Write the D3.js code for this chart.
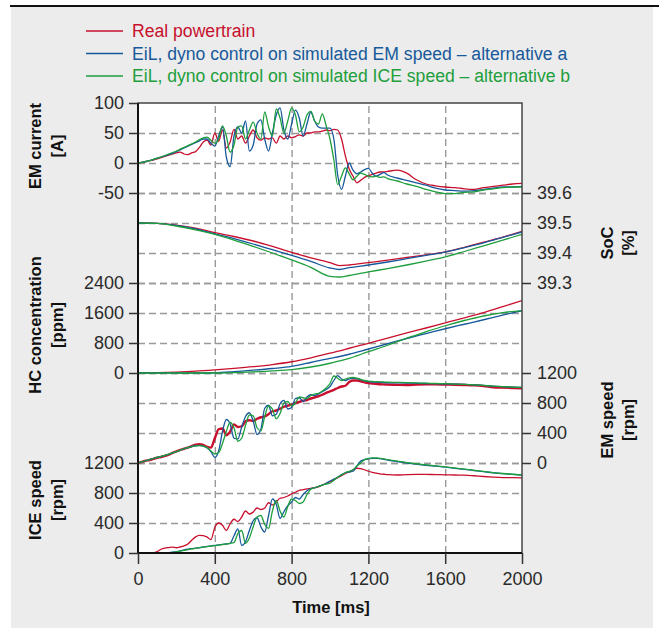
<!DOCTYPE html>
<html>
<head>
<meta charset="utf-8">
<script src="https://cdn.jsdelivr.net/npm/d3@7"></script>
<style>
  body { margin: 0; background: #fff; }
  svg { display: block; font-family: 'Liberation Sans', Arial, sans-serif; }
</style>
</head>
<body>
<div id="chart"></div>
<script>
// time stamps [ms]
const timeFast = [
  0, 20, 40, 60, 80, 100, 120, 140, 160, 180,
  200, 220, 240, 260, 280, 300, 320, 340, 360, 380,
  400, 420, 440, 460, 480, 500, 520, 540, 560, 580,
  600, 620, 640, 660, 680, 700, 720, 740, 760, 780,
  800, 820, 840, 860, 880, 900, 920, 940, 960, 980,
  1000, 1020, 1040, 1060, 1080, 1100, 1120, 1140, 1160, 1180,
  1200, 1220, 1240, 1260, 1280, 1300, 1350, 1400, 1450, 1500,
  1550, 1600, 1650, 1700, 1750, 1800, 1850, 1900, 1950, 2000
];
const timeSlow = [0, 100, 200, 300, 400, 500, 600, 700, 800, 900, 1000, 1050,
  1100, 1200, 1300, 1400, 1500, 1600, 1700, 1800, 1900, 2000];

// EM current [A]
const emCurrentReal = [
  0, 1, 2, 4, 5, 7, 9, 11, 13, 15,
  17, 18, 15, 14, 17, 19, 26, 35, 38, 30,
  50, 36, 55, 25, 35, 56, 40, 45, 33, 45,
  55, 42, 38, 42, 40, 42, 33, 45, 40, 45,
  42, 44, 47, 45, 50, 50, 52, 52, 53, 55,
  54, 56, 55, 40, 12, -10, -22, -33, -29, -24,
  -21, -19, -17, -15, -15, -14, -12, -17, -28, -35,
  -38, -40, -41, -43, -44, -41, -39, -37, -35, -34
];
const emCurrentA = [
  0, 1, 2.5, 4, 6, 8, 10, 12, 14, 16,
  19, 22, 25, 28, 31, 34, 37, 40, 40, 33,
  28, 45, 60, 10, -6, 45, 60, 50, 70, 20,
  30, 65, 72, 40, 20, 50, 80, 92, 55, 40,
  65, 88, 75, 45, 65, 85, 70, 60, 58, 58,
  58, 40, -20, -44, -22, 0, -12, -18, -15, -11,
  -9, -17, -22, -19, -16, -20, -25, -29, -33, -37,
  -42, -45, -46, -47, -46, -44, -42, -40, -40, -39
];
const emCurrentB = [
  0, 1, 2.5, 4, 6, 8, 10, 12.5, 15, 17.5,
  20, 23, 26, 29, 32, 35, 39, 42, 43, 38,
  33, 40, 62, 45, 18, 30, 60, 62, 40, 55,
  68, 50, 40, 85, 60, 45, 90, 75, 50, 70,
  92, 80, 52, 60, 80, 86, 70, 65, 82, 62,
  40, 5, -36, -22, -8, -18, -28, -22, -17, -19,
  -22, -23, -22, -24, -23, -26, -30, -35, -39, -44,
  -48, -51, -51, -49, -48, -45, -43, -41, -40, -40
];

// SoC [%]
const socReal = [39.500, 39.499, 39.493, 39.483, 39.468, 39.455, 39.440, 39.422, 39.402, 39.384, 39.368,
  39.358, 39.360, 39.368, 39.376, 39.385, 39.394, 39.404, 39.419, 39.436, 39.453, 39.472];
const socA = [39.500, 39.499, 39.492, 39.480, 39.464, 39.448, 39.430, 39.411, 39.392, 39.372, 39.350,
  39.345, 39.351, 39.360, 39.370, 39.381, 39.392, 39.403, 39.418, 39.434, 39.452, 39.470];
const socB = [39.500, 39.499, 39.490, 39.477, 39.462, 39.443, 39.422, 39.400, 39.377, 39.352, 39.322,
  39.320, 39.325, 39.337, 39.348, 39.360, 39.373, 39.387, 39.405, 39.424, 39.443, 39.462];

// HC concentration [ppm]
const hcReal = [0, 8, 25, 50, 85, 125, 170, 225, 300, 405, 530, 590, 660, 790, 930, 1070, 1200, 1335, 1470, 1610, 1770, 1930];
const hcA = [0, 0, 0, 0, 5, 35, 75, 120, 175, 280, 390, 440, 500, 640, 780, 920, 1050, 1180, 1300, 1420, 1545, 1662];
const hcB = [0, 0, 0, 0, 0, 10, 30, 55, 90, 160, 260, 325, 390, 570, 740, 930, 1100, 1260, 1400, 1520, 1610, 1665];

// EM speed [rpm]
const emSpeedReal = [
  0, 15, 30, 40, 55, 70, 80, 95, 110, 135,
  155, 175, 190, 205, 225, 245, 250, 240, 215, 205,
  330, 450, 460, 370, 420, 515, 480, 490, 555, 570,
  560, 590, 610, 620, 650, 690, 700, 725, 750, 765,
  780, 800, 815, 830, 840, 860, 875, 890, 910, 935,
  955, 975, 1000, 1020, 1030, 1080, 1100, 1100, 1090, 1075,
  1065, 1060, 1055, 1050, 1048, 1045, 1042, 1040, 1045, 1048,
  1048, 1046, 1044, 1040, 1035, 1025, 1010, 1005, 1000, 995
];
const emSpeedA = [
  0, 15, 30, 45, 60, 75, 85, 100, 115, 135,
  150, 170, 190, 205, 220, 230, 235, 225, 200, 150,
  75, 160, 420, 580, 520, 330, 320, 480, 620, 670,
  560, 380, 450, 730, 770, 630, 650, 790, 835, 720,
  740, 860, 870, 820, 880, 910, 900, 920, 950, 980,
  1020, 1100, 1165, 1120, 1100, 1120, 1130, 1125, 1110, 1095,
  1085, 1080, 1078, 1075, 1072, 1070, 1068, 1066, 1063, 1060,
  1058, 1055, 1052, 1048, 1042, 1035, 1025, 1018, 1012, 1008
];
const emSpeedB = [
  0, 15, 30, 45, 60, 75, 88, 102, 118, 136,
  152, 172, 190, 205, 218, 228, 232, 225, 205, 160,
  120, 140, 260, 420, 540, 470, 290, 330, 500, 640,
  630, 470, 430, 620, 760, 720, 590, 660, 800, 820,
  760, 800, 880, 870, 860, 900, 920, 930, 960, 1000,
  1060, 1160, 1130, 1100, 1120, 1135, 1140, 1130, 1115, 1100,
  1092, 1088, 1085, 1082, 1080, 1078, 1075, 1072, 1068, 1064,
  1060, 1057, 1053, 1048, 1042, 1034, 1025, 1018, 1012, 1008
];

// ICE speed [rpm]
const iceSpeedReal = [
  0, 0, 0, 0, 0, 20, 50, 65, 72, 78,
  70, 80, 95, 120, 170, 215, 235, 232, 212, 180,
  340, 400, 370, 300, 390, 450, 420, 480, 560, 520,
  545, 600, 580, 600, 670, 640, 680, 730, 740, 760,
  790, 810, 835, 845, 855, 862, 870, 880, 905, 930,
  950, 975, 1005, 1030, 1060, 1080, 1110, 1130, 1125, 1110,
  1090, 1075, 1065, 1055, 1050, 1045, 1040, 1045, 1048, 1048,
  1045, 1043, 1040, 1038, 1030, 1020, 1012, 1006, 1004, 1002
];
const iceSpeedA = [
  0, 0, 0, 0, 0, 0, 0, 2, 5, 10,
  18, 28, 40, 50, 58, 65, 72, 80, 88, 95,
  102, 108, 115, 120, 130, 230, 320, 100, 150, 300,
  430, 470, 350, 280, 500, 720, 650, 460, 550, 630,
  680, 740, 720, 780, 830, 860, 870, 890, 905, 930,
  960, 985, 1010, 1045, 1070, 1080, 1090, 1160, 1225, 1245,
  1255, 1262, 1262, 1258, 1250, 1240, 1220, 1200, 1185, 1170,
  1158, 1145, 1130, 1115, 1100, 1085, 1070, 1058, 1048, 1040
];
const iceSpeedB = [
  0, 0, 0, 0, 0, 0, 0, 0, 3, 8,
  15, 25, 35, 45, 55, 62, 70, 78, 85, 92,
  98, 105, 112, 120, 128, 140, 260, 300, 130, 200,
  350, 480, 500, 380, 330, 560, 700, 560, 480, 620,
  720, 700, 660, 680, 780, 850, 870, 890, 905, 920,
  930, 970, 1010, 1040, 1070, 1090, 1110, 1160, 1200, 1245,
  1260, 1268, 1268, 1262, 1255, 1245, 1225, 1205, 1190, 1175,
  1162, 1148, 1133, 1118, 1103, 1088, 1072, 1060, 1050, 1040
];

const seriesNames = [
  'Real powertrain',
  'EiL, dyno control on simulated EM speed – alternative a',
  'EiL, dyno control on simulated ICE speed – alternative b'
];
const seriesColors = ['#c8102e', '#17599b', '#1e9e3c'];

const currentTicks = [100, 50, 0, -50];
const socTicks = [39.6, 39.5, 39.4, 39.3];
const hcTicks = [2400, 1600, 800, 0];
const emSpeedTicks = [1200, 800, 400, 0];
const iceSpeedTicks = [1200, 800, 400, 0];
const timeTicks = [0, 400, 800, 1200, 1600, 2000];

const width = 659, height = 628;
const plotLeft = 138, plotRight = 522, plotTop = 103, rowH = 30;
const plotBottom = plotTop + 15 * rowH;

const svg = d3.select('#chart').append('svg')
  .attr('width', width)
  .attr('height', height);

// page background
svg.append('rect').attr('x', 11).attr('y', 7).attr('width', 642).attr('height', 621).attr('fill', '#ebeceb');
svg.append('line').attr('x1', 10).attr('x2', 659).attr('y1', 6).attr('y2', 6)
  .attr('stroke', '#111').attr('stroke-width', 2);

svg.append('rect').attr('x', plotLeft).attr('y', plotTop)
  .attr('width', plotRight - plotLeft).attr('height', plotBottom - plotTop).attr('fill', '#fff');

const x = d3.scaleLinear().domain([0, 2000]).range([plotLeft, plotRight]);
const yCur = d3.scaleLinear().domain([-50, 100]).range([plotTop + 3 * rowH, plotTop]);
const ySoc = d3.scaleLinear().domain([39.3, 39.6]).range([plotTop + 6 * rowH, plotTop + 3 * rowH]);
const yHc = d3.scaleLinear().domain([0, 2400]).range([plotTop + 9 * rowH, plotTop + 6 * rowH]);
const yEm = d3.scaleLinear().domain([0, 1200]).range([plotTop + 12 * rowH, plotTop + 9 * rowH]);
const yIce = d3.scaleLinear().domain([0, 1200]).range([plotTop + 15 * rowH, plotTop + 12 * rowH]);

const panels = [
  { y: yCur, ticks: currentTicks, side: 'left', label: ['EM current', '[A]'], labelY: 146,
    time: timeFast, data: [emCurrentReal, emCurrentA, emCurrentB] },
  { y: ySoc, ticks: socTicks, side: 'right', label: ['SoC', '[%]'], labelY: 243,
    time: timeSlow, data: [socReal, socA, socB] },
  { y: yHc, ticks: hcTicks, side: 'left', label: ['HC concentration', '[ppm]'], labelY: 325,
    time: timeSlow, data: [hcReal, hcA, hcB] },
  { y: yEm, ticks: emSpeedTicks, side: 'right', label: ['EM speed', '[rpm]'], labelY: 420,
    time: timeFast, data: [emSpeedReal, emSpeedA, emSpeedB] },
  { y: yIce, ticks: iceSpeedTicks, side: 'left', label: ['ICE speed', '[rpm]'], labelY: 500,
    time: timeFast, data: [iceSpeedReal, iceSpeedA, iceSpeedB] }
];

// grid
const grid = svg.append('g').attr('class', 'grid');
panels.forEach(p => {
  grid.append('g')
    .attr('transform', `translate(${plotLeft},0)`)
    .call(d3.axisLeft(p.y).tickValues(p.ticks.filter(v => p.y(v) > plotTop + 1 && p.y(v) < plotBottom - 1))
      .tickSize(-(plotRight - plotLeft)).tickFormat(''));
});
grid.append('g')
  .attr('transform', `translate(0,${plotBottom})`)
  .call(d3.axisBottom(x).tickValues([400, 800, 1200, 1600]).tickSize(-(plotBottom - plotTop)).tickFormat(''));
grid.selectAll('.domain').remove();
grid.selectAll('line').attr('stroke', '#999').attr('stroke-width', 1.4).attr('stroke-dasharray', '7,4');

// lines
svg.append('clipPath').attr('id', 'plot-clip')
  .append('rect').attr('x', plotLeft).attr('y', plotTop)
  .attr('width', plotRight - plotLeft).attr('height', plotBottom - plotTop);
const lines = svg.append('g').attr('clip-path', 'url(#plot-clip)');

panels.forEach(p => {
  const line = d3.line()
    .x((d, i) => x(p.time[i]))
    .y(d => p.y(d))
    .curve(d3.curveMonotoneX);
  p.data.forEach((values, k) => {
    lines.append('path')
      .datum(values)
      .attr('fill', 'none')
      .attr('stroke', seriesColors[k])
      .attr('stroke-width', (p.y === yEm && k === 0) ? 2.4 : 1.3)
      .attr('stroke-linejoin', 'round')
      .attr('d', line);
  });
});

// frame
svg.append('rect').attr('x', plotLeft).attr('y', plotTop)
  .attr('width', plotRight - plotLeft).attr('height', plotBottom - plotTop)
  .attr('fill', 'none').attr('stroke', '#444').attr('stroke-width', 1.5);
svg.append('line').attr('x1', plotLeft).attr('x2', plotLeft).attr('y1', plotTop).attr('y2', plotBottom + 1)
  .attr('stroke', '#111').attr('stroke-width', 2);
svg.append('line').attr('x1', plotLeft).attr('x2', plotRight).attr('y1', plotBottom).attr('y2', plotBottom)
  .attr('stroke', '#111').attr('stroke-width', 2);

// axes
const fmt = d => String(d);
panels.forEach(p => {
  const isLeft = p.side === 'left';
  const axis = (isLeft ? d3.axisLeft(p.y) : d3.axisRight(p.y))
    .tickValues(p.ticks).tickSize(9).tickPadding(isLeft ? 5 : 6).tickFormat(fmt);
  const g = svg.append('g')
    .attr('transform', `translate(${isLeft ? plotLeft : plotRight},0)`)
    .call(axis);
  g.select('.domain').remove();
  g.selectAll('.tick line').attr('stroke', '#333').attr('stroke-width', 1.5);
  g.selectAll('.tick text').attr('fill', '#2a2a2a').style('font-size', '18px')
    .style('font-family', "'Liberation Sans', Arial, sans-serif");

  const lx = isLeft ? [35, 57] : [607, 628];
  p.label.forEach((t, i) => {
    svg.append('text')
      .attr('transform', `translate(${lx[i]},${p.labelY}) rotate(-90)`)
      .attr('text-anchor', 'middle')
      .attr('dy', '0.35em')
      .style('font-size', '16.5px')
      .style('font-weight', 'bold')
      .attr('fill', '#111')
      .text(t);
  });
});

const xAxis = svg.append('g')
  .attr('transform', `translate(0,${plotBottom})`)
  .call(d3.axisBottom(x).tickValues(timeTicks).tickSize(11).tickPadding(8).tickFormat(fmt));
xAxis.select('.domain').remove();
xAxis.selectAll('.tick line').attr('stroke', '#333').attr('stroke-width', 1.5);
xAxis.selectAll('.tick text').attr('fill', '#2a2a2a').style('font-size', '18px')
  .style('font-family', "'Liberation Sans', Arial, sans-serif");

svg.append('text')
  .attr('x', (plotLeft + plotRight) / 2 + 1)
  .attr('y', 613)
  .attr('text-anchor', 'middle')
  .style('font-size', '16.5px')
  .style('font-weight', 'bold')
  .attr('fill', '#111')
  .text('Time [ms]');

// legend
const legend = svg.append('g');
seriesNames.forEach((name, i) => {
  const ly = 31 + i * 22.5;
  legend.append('line')
    .attr('x1', 86).attr('x2', 123).attr('y1', ly).attr('y2', ly)
    .attr('stroke', seriesColors[i]).attr('stroke-width', 1.4);
  legend.append('text')
    .attr('x', 132).attr('y', ly).attr('dy', '0.35em')
    .style('font-size', '17.6px')
    .attr('fill', seriesColors[i])
    .text(name);
});
</script>
</body>
</html>
